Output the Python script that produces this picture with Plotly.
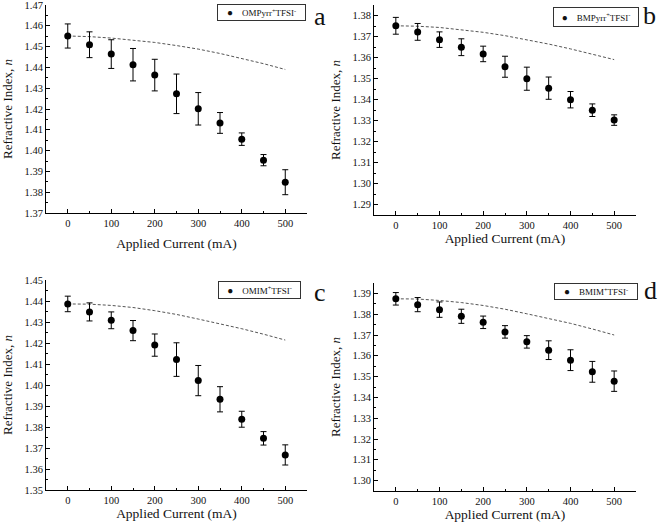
import plotly.graph_objects as go

current = [0, 50, 100, 150, 200, 250, 300, 350, 400, 450, 500]

# Panel a: OMPyrr+TFSI-
n_a = [1.4551, 1.4509, 1.4464, 1.4413, 1.4363, 1.4273, 1.4201, 1.4133, 1.4055, 1.3954, 1.3848]
err_a = [0.0058, 0.0062, 0.0069, 0.0078, 0.0076, 0.0095, 0.0078, 0.0050, 0.0030, 0.0027, 0.0060]
fit_a = [1.4551, 1.4548, 1.4541, 1.4532, 1.4520, 1.4505, 1.4488, 1.4467, 1.4444, 1.4418, 1.4390]

# Panel b: BMPyrr+TFSI-
n_b = [1.3751, 1.3722, 1.3685, 1.3649, 1.3617, 1.3556, 1.3499, 1.3454, 1.3399, 1.3349, 1.3302]
err_b = [0.0040, 0.0040, 0.0037, 0.0040, 0.0037, 0.0050, 0.0055, 0.0053, 0.0039, 0.0030, 0.0025]
fit_b = [1.3751, 1.3749, 1.3743, 1.3733, 1.3720, 1.3704, 1.3685, 1.3664, 1.3641, 1.3616, 1.3590]

# Panel c: OMIM+TFSI-
n_c = [1.4386, 1.4348, 1.4308, 1.4259, 1.4190, 1.4121, 1.4021, 1.3932, 1.3837, 1.3746, 1.3667]
err_c = [0.0037, 0.0043, 0.0040, 0.0048, 0.0053, 0.0080, 0.0072, 0.0060, 0.0038, 0.0032, 0.0048]
fit_c = [1.4386, 1.4385, 1.4379, 1.4369, 1.4354, 1.4336, 1.4314, 1.4292, 1.4268, 1.4242, 1.4214]

# Panel d: BMIM+TFSI-
n_d = [1.3874, 1.3846, 1.3822, 1.3790, 1.3761, 1.3715, 1.3667, 1.3627, 1.3579, 1.3523, 1.3478]
err_d = [0.0030, 0.0034, 0.0037, 0.0034, 0.0030, 0.0030, 0.0030, 0.0045, 0.0050, 0.0050, 0.0049]
fit_d = [1.3874, 1.3873, 1.3866, 1.3856, 1.3842, 1.3824, 1.3802, 1.3780, 1.3756, 1.3729, 1.3700]

names = ["OMPyrr<sup>+</sup>TFSI<sup>-</sup>", "BMPyrr<sup>+</sup>TFSI<sup>-</sup>",
         "OMIM<sup>+</sup>TFSI<sup>-</sup>", "BMIM<sup>+</sup>TFSI<sup>-</sup>"]
panel_letters = ["a", "b", "c", "d"]
y_ranges = [[1.37, 1.47], [1.285, 1.385], [1.35, 1.45], [1.295, 1.395]]

W, H = 660, 522
# pixel boxes: (left, right, top, bottom)
boxes = [(46, 307, 5, 213), (374, 636, 5, 215), (46, 307, 280, 490), (374, 636, 283, 491)]
# legend boxes: (left, right, top, bottom)
legend_boxes = [(217, 306, 4, 17), (553, 639, 7, 23), (218, 301, 281, 295), (554, 638, 283, 296)]
letter_pos = [(320, 16), (649, 15), (320, 292), (650, 290)]
title_standoff = [10, 1, 1, 1]

FONT = "Liberation Serif"
series = [(n_a, err_a, fit_a), (n_b, err_b, fit_b), (n_c, err_c, fit_c), (n_d, err_d, fit_d)]
EPS = 1e-6

fig = go.Figure()
layout = dict(width=W, height=H, margin=dict(l=0, r=0, t=0, b=0, autoexpand=False),
              paper_bgcolor="white", plot_bgcolor="white",
              font=dict(family=FONT, color="#111"), showlegend=False)
annotations = []

for i, (vals, errs, fit) in enumerate(series):
    k = "" if i == 0 else str(i + 1)
    xa, ya = "x" + k, "y" + k
    fig.add_trace(go.Scatter(x=current, y=fit, mode="lines", xaxis=xa, yaxis=ya,
                             line=dict(color="#555", width=1.0, dash="3px,2px"),
                             hoverinfo="skip"))
    fig.add_trace(go.Scatter(x=current, y=vals, mode="markers", xaxis=xa, yaxis=ya,
                             name=names[i],
                             marker=dict(color="black", size=7),
                             error_y=dict(type="data", array=errs, color="black",
                                          thickness=1, width=3)))
    l, r, t, b = boxes[i]
    layout["xaxis" + k] = dict(domain=[l / W, r / W], anchor=ya, range=[-50, 550],
                               automargin=False, ticklabeloverflow="allow",
                               tickvals=[0, 100, 200, 300, 400, 500],
                               ticks="inside", ticklen=4, tickcolor="black",
                               showline=True, linecolor="black", linewidth=1,
                               showgrid=False, zeroline=False,
                               minor=dict(ticks="inside", ticklen=2, dtick=50, tick0=0,
                                          tickcolor="black", showgrid=False),
                               tickfont=dict(family=FONT, size=10.5, color="#111"),
                               title=dict(text="Applied Current (mA)", standoff=title_standoff[i],
                                          font=dict(family=FONT, size=13.5, color="#111")))
    lo, hi = y_ranges[i]
    layout["yaxis" + k] = dict(domain=[1 - b / H, 1 - t / H], anchor=xa, range=[lo - EPS, hi + EPS],
                               automargin=False, ticklabeloverflow="allow",
                               dtick=0.01, tick0=0, tickformat=".2f",
                               ticks="inside", ticklen=4, tickcolor="black",
                               showline=True, linecolor="black", linewidth=1,
                               showgrid=False, zeroline=False,
                               minor=dict(ticks="inside", ticklen=2, dtick=0.005,
                                          tickcolor="black", showgrid=False),
                               tickfont=dict(family=FONT, size=10.5, color="#111"),
                               title=dict(text="Refractive Index, <i>n</i>", standoff=8,
                                          font=dict(family=FONT, size=13, color="#111")))
    # legend box
    bl, br, bt, bb = legend_boxes[i]
    annotations.append(dict(x=bl / W, y=1 - bt / H, xref="paper", yref="paper",
                            xanchor="left", yanchor="top", showarrow=False,
                            text="<span style='font-size:10px'>●</span>&nbsp;&nbsp;&nbsp;&nbsp;" + names[i],
                            font=dict(family=FONT, size=9, color="#111"),
                            width=br - bl - 6, height=bb - bt - 2, align="center", valign="middle",
                            bordercolor="#333", borderwidth=1, borderpad=2, bgcolor="white"))
    px_, py_ = letter_pos[i]
    annotations.append(dict(x=px_ / W, y=1 - py_ / H, xref="paper", yref="paper",
                            text=panel_letters[i], showarrow=False,
                            font=dict(family=FONT, size=26, color="#111"),
                            xanchor="center", yanchor="middle"))

layout["annotations"] = annotations
fig.update_layout(**layout)
fig.write_html("out.html", config={"displayModeBar": False},
               post_script="document.body.style.margin='0px';document.body.style.overflow='hidden';")
